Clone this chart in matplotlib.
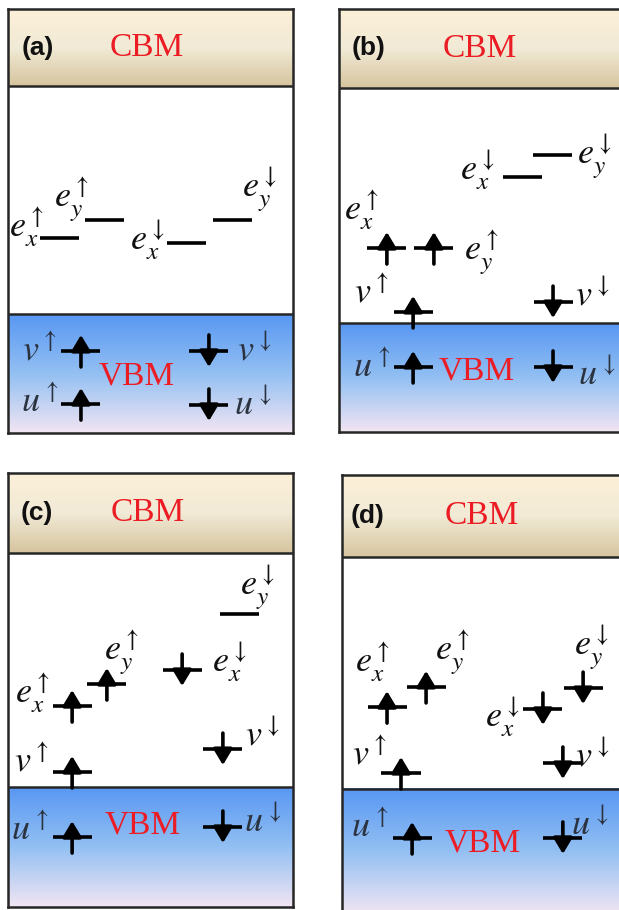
import numpy as np
import matplotlib.pyplot as plt
from matplotlib.colors import LinearSegmentedColormap

W, H = 619, 910
plt.rcParams['mathtext.fontset'] = 'stix'

# panel frames in pixels: left, top, CBM edge, VBM edge, bottom
panel_tags = ['(a)', '(b)', '(c)', '(d)']
panel_left = [8, 339, 8, 342]
panel_top = [9, 9, 473, 475]
cbm_edge = [86, 88, 553, 557]
vbm_edge = [314, 323, 787, 789]
panel_bottom = [433, 432, 907, 914]
panel_width = 285

# levels, energies in units of the gap (VBM = 0, CBM = 1)
level_keys = ['ex_up', 'ey_up', 'ex_dn', 'ey_dn', 'v_up', 'u_up', 'v_dn', 'u_dn']
level_tex = [r'$e_x^{\uparrow}$', r'$e_y^{\uparrow}$', r'$e_x^{\downarrow}$', r'$e_y^{\downarrow}$',
             r'$v^{\uparrow}$', r'$u^{\uparrow}$', r'$v^{\downarrow}$', r'$u^{\downarrow}$']

level_x = [
    [0.181, 0.337, 0.626, 0.789, 0.256, 0.256, 0.705, 0.705],
    [0.168, 0.333, 0.644, 0.749, 0.260, 0.260, 0.751, 0.751],
    [0.225, 0.347, 0.611, 0.812, 0.225, 0.225, 0.754, 0.754],
    [0.158, 0.295, 0.705, 0.846, 0.207, 0.246, 0.775, 0.775],
]
level_E = [
    [0.333, 0.412, 0.311, 0.412, -0.162, -0.395, -0.162, -0.399],
    [0.319, 0.319, 0.621, 0.715, 0.047, -0.187, 0.089, -0.187],
    [0.346, 0.440, 0.500, 0.739, 0.064, -0.214, 0.162, -0.171],
    [0.353, 0.440, 0.345, 0.435, 0.069, -0.211, 0.112, -0.211],
]
# occupation: 1 spin up electron, -1 spin down electron, 0 empty
level_occ = [
    [0, 0, 0, 0, 1, 1, -1, -1],
    [1, 1, 0, 0, 1, 1, -1, -1],
    [1, 1, -1, 0, 1, 1, -1, -1],
    [1, 1, -1, -1, 1, 1, -1, -1],
]
label_x = [
    [0.067, 0.225, 0.491, 0.884, 0.112, 0.112, 0.867, 0.860],
    [0.081, 0.502, 0.488, 0.898, 0.116, 0.116, 0.891, 0.905],
    [0.088, 0.400, 0.779, 0.877, 0.084, 0.077, 0.895, 0.895],
    [0.109, 0.389, 0.565, 0.877, 0.098, 0.098, 0.881, 0.870],
]
label_E = [
    [0.382, 0.500, 0.325, 0.544, -0.158, -0.386, -0.158, -0.399],
    [0.481, 0.298, 0.651, 0.706, 0.128, -0.187, 0.119, -0.221],
    [0.402, 0.573, 0.534, 0.850, 0.107, -0.184, 0.222, -0.150],
    [0.547, 0.586, 0.310, 0.608, 0.147, -0.164, 0.138, -0.155],
]

tag_x = [0.105, 0.102, 0.102, 0.091]
cbm_x = [0.488, 0.495, 0.491, 0.491]
vbm_x = [0.453, 0.484, 0.474, 0.495]
vbm_E = [-0.272, -0.204, -0.162, -0.233]

cbm_cmap = LinearSegmentedColormap.from_list('cbm', ['#fdf0d8', '#f1ead6', '#d6c49e'])
vbm_cmap = LinearSegmentedColormap.from_list('vbm', ['#5897f3', '#93c0f2', '#f2e5f3'])
grad = np.linspace(0, 1, 256).reshape(-1, 1)

edge = '#262626'
bar_w = 0.137
arrow_px = 16

fig = plt.figure(figsize=(W / 100, H / 100), dpi=100)

for i in range(4):
    L, T, C, V, B = panel_left[i], panel_top[i], cbm_edge[i], vbm_edge[i], panel_bottom[i]
    gap = V - C
    ytop = (V - T) / gap
    ybot = (V - B) / gap
    ax = fig.add_axes([L / W, 1 - B / H, panel_width / W, (B - T) / H])

    ax.imshow(grad, extent=[0, 1, 1, ytop], aspect='auto', cmap=cbm_cmap,
              origin='upper', interpolation='bilinear', zorder=0)
    ax.imshow(grad, extent=[0, 1, ybot, 0], aspect='auto', cmap=vbm_cmap,
              origin='upper', interpolation='bilinear', zorder=0)
    ax.axhline(1, color=edge, lw=1.8, zorder=1)
    ax.axhline(0, color=edge, lw=1.8, zorder=1)
    ax.set_xlim(0, 1)
    ax.set_ylim(ybot, ytop)
    ax.set_xticks([])
    ax.set_yticks([])
    for s in ax.spines.values():
        s.set_color(edge)
        s.set_linewidth(1.8)

    ax.text(tag_x[i], (1 + ytop) / 2, panel_tags[i], fontsize=19, fontweight='bold',
            family='Liberation Sans', ha='center', va='center', color='#111111')
    ax.text(cbm_x[i], (1 + ytop) / 2, 'CBM', fontsize=24, family='Liberation Serif',
            ha='center', va='center', color='#ec1c24')
    ax.text(vbm_x[i], vbm_E[i], 'VBM', fontsize=24, family='Liberation Serif',
            ha='center', va='center', color='#ec1c24', zorder=3)

    d = arrow_px / gap
    for k in range(len(level_keys)):
        x, E, occ = level_x[i][k], level_E[i][k], level_occ[i][k]
        ax.plot([x - bar_w / 2, x + bar_w / 2], [E, E], color='k', lw=2.6,
                solid_capstyle='butt', zorder=4)
        if occ != 0:
            tip, tail = (E + d, E - d) if occ > 0 else (E - d, E + d)
            ax.annotate('', xy=(x, tip), xytext=(x, tail),
                        arrowprops=dict(arrowstyle='-|>,head_length=0.4,head_width=0.24',
                                        lw=2.6, color='k', shrinkA=0, shrinkB=0,
                                        mutation_scale=24), zorder=5)
        col = '#2b3340' if label_E[i][k] < 0 else '#111111'
        ax.text(label_x[i][k], label_E[i][k], level_tex[k], fontsize=26,
                ha='center', va='center', color=col, zorder=6)

fig.savefig('out.png', dpi=100)
